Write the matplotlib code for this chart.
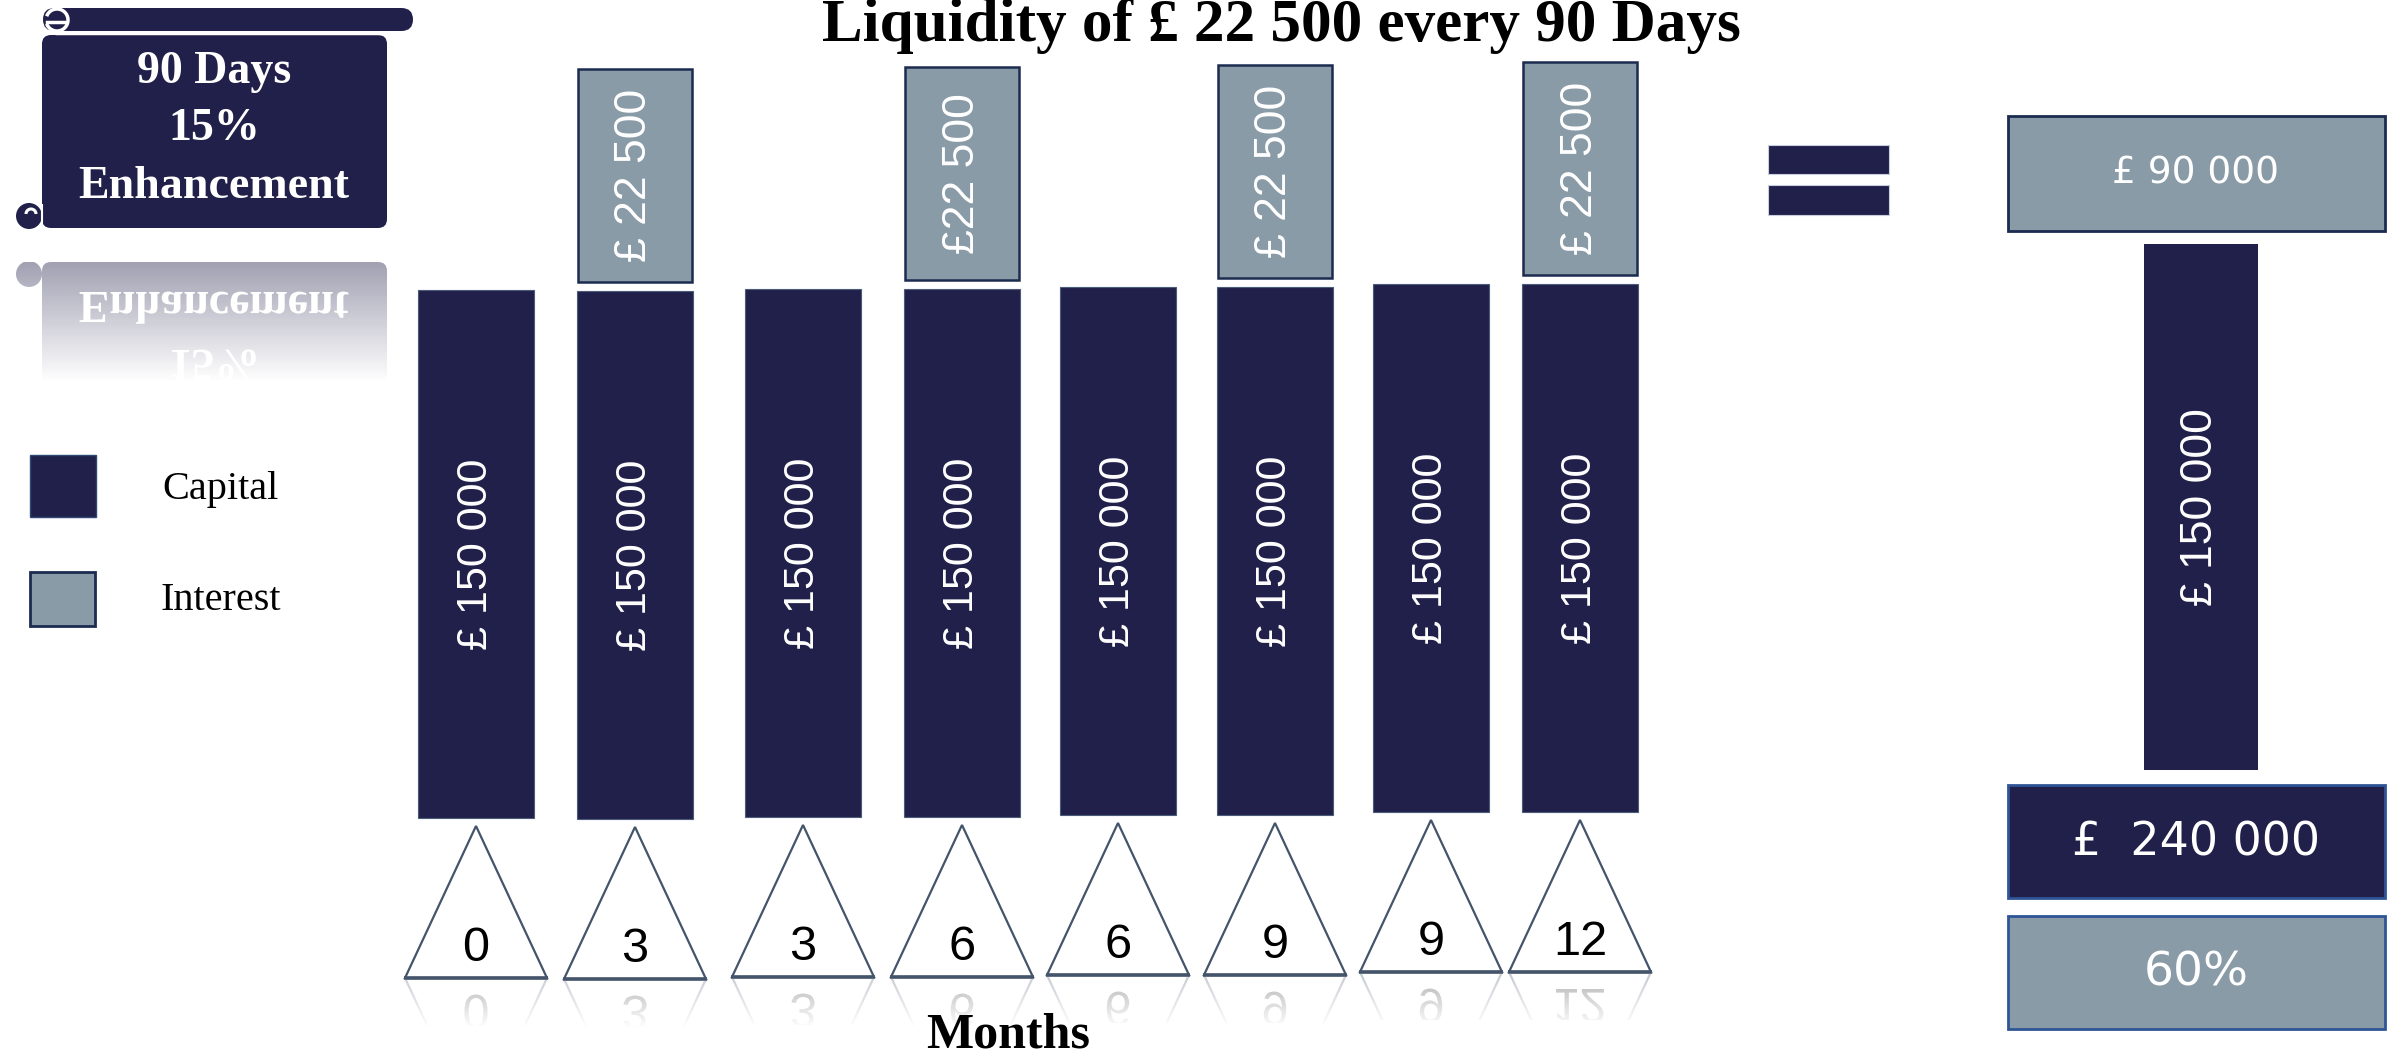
import numpy as np
import matplotlib
matplotlib.use('Agg')
import matplotlib.pyplot as plt
from matplotlib.patches import Rectangle, FancyBboxPatch, Polygon, PathPatch, Circle, Arc
from matplotlib.textpath import TextPath
from matplotlib.font_manager import FontProperties
from matplotlib.transforms import Affine2D

# ---------------- data ----------------
months = ['0', '3', '3', '6', '6', '9', '9', '12']
capital = [150000, 150000, 150000, 150000, 150000, 150000, 150000, 150000]
interest = [0, 22500, 0, 22500, 0, 22500, 0, 22500]
interest_labels = ['', '£ 22 500', '', '£22 500', '', '£ 22 500', '', '£ 22 500']
capital_labels = ['£ 150 000'] * 8
title = 'Liquidity of £ 22 500 every 90 Days'
scroll_lines = ['90 Days', '15%', 'Enhancement']
legend_labels = ['Capital', 'Interest']
xlabel = 'Months'

# ---------------- style ----------------
NAVY = '#21204A'
GREY = '#8A9BA8'
EDGE = '#44546A'
BORDER = '#1C2B50'
BLUE_BORDER = '#2F5597'
SERIF = ['Liberation Serif', 'DejaVu Serif']
NARROW = ['Liberation Sans Narrow', 'Liberation Sans', 'DejaVu Sans']
WIDE = ['DejaVu Sans']

W, H = 2394, 1061
fig = plt.figure(figsize=(W / 100, H / 100), dpi=100)
ax = fig.add_axes([0, 0, 1, 1])
ax.axis('off')


def fmt(v):
    return '{:,}'.format(int(round(v))).replace(',', ' ')


def clip_rect(x0, y0, w, h):
    return Rectangle((x0, y0), w, h, transform=ax.transData)


def fade(x0, x1, y0, y1, a0, a1, z):
    n = 256
    img = np.ones((n, 2, 4))
    img[..., 3] = np.linspace(a0, a1, n)[:, None]
    ax.imshow(img, extent=(x0, x1, y1, y0), origin='upper', aspect='auto',
              zorder=z, interpolation='bilinear')


def mirrored_text(xc, baseline, s, size_pt, fp, color, clip, z=1.5):
    tp = TextPath((0, 0), s, size=size_pt * 100 / 72, prop=fp)
    ext = tp.get_extents()
    tr = Affine2D().translate(-(ext.x0 + ext.x1) / 2, 0).translate(xc, baseline) + ax.transData
    p = PathPatch(tp, transform=tr, facecolor=color, edgecolor='none', zorder=z)
    ax.add_patch(p)
    p.set_clip_path(clip)


# ---------------- layout ----------------
bar_x = [476, 635, 803, 962, 1118, 1275, 1431, 1580]
base_y = [818, 819, 817, 817, 815, 815, 812, 812]
bar_w = 116
px_per = 528 / 150000.0
gap = 9
box_h = 213

# capital bars
cap_h = [-c * px_per for c in capital]
ax.bar(bar_x, cap_h, width=bar_w, bottom=base_y, color=NAVY,
       edgecolor='#4B5B7A', linewidth=0.8, zorder=3)
for x, b, c, lab in zip(bar_x, base_y, capital, capital_labels):
    ax.text(x, b - c * px_per / 2, lab, rotation=90, ha='center', va='center',
            color='white', fontsize=31, family=NARROW, zorder=4)

# interest boxes
ix = [x for x, v in zip(bar_x, interest) if v > 0]
ib = [b - c * px_per - gap for b, c, v in zip(base_y, capital, interest) if v > 0]
ax.bar(ix, [-box_h] * len(ix), width=bar_w - 2, bottom=ib, color=GREY,
       edgecolor=BORDER, linewidth=1.8, zorder=3)
for x, b, c, v, lab in zip(bar_x, base_y, capital, interest, interest_labels):
    if v > 0:
        ax.text(x, b - c * px_per - gap - box_h / 2, lab, rotation=90, ha='center',
                va='center', color='white', fontsize=32, family=NARROW, zorder=4)

# triangles with month labels + reflections
tri_h = 152
half = 71
fp_digit = FontProperties(family=NARROW)
for x, b, m in zip(bar_x, base_y, months):
    tb = b + 160
    apex = tb - tri_h
    ax.add_patch(Polygon([[x - half, tb], [x, apex], [x + half, tb]], closed=True,
                         facecolor='white', edgecolor=EDGE, linewidth=1.6, zorder=3))
    ax.plot([x - half - 1, x + half + 1], [tb, tb], color=EDGE, lw=2.6,
            solid_capstyle='butt', zorder=3.5)
    ax.text(x, tb - 17, m, ha='center', va='baseline', fontsize=35,
            family=NARROW, color='black', zorder=4)
    # reflection
    clip = clip_rect(x - half - 5, tb + 2, 2 * half + 10, 46)
    refl = Polygon([[x - half, tb], [x, tb + tri_h], [x + half, tb]], closed=False,
                   fill=False, edgecolor=EDGE, linewidth=1.6, zorder=1)
    ax.add_patch(refl)
    refl.set_clip_path(clip)
    mirrored_text(x, tb + 17, m, 35, fp_digit, 'black', clip)
fade(390, 1670, min(base_y) + 162, max(base_y) + 160 + 48, 0.7, 1.0, 2)

ax.text(1008, 1059, xlabel, ha='center', va='bottom', fontsize=36,
        fontweight='bold', family=SERIF, color='black', zorder=4)

# title
ax.text(1281, 41, title, ha='center', va='baseline', fontsize=44,
        fontweight='bold', family=SERIF, color='black', zorder=4)

# ---------------- scroll banner ----------------
ax.add_patch(FancyBboxPatch((43, 8), 370, 23, boxstyle='round,pad=0,rounding_size=11.5',
                            facecolor=NAVY, edgecolor='none', zorder=3))
ax.add_patch(FancyBboxPatch((42, 35), 345, 193, boxstyle='round,pad=0,rounding_size=9',
                            facecolor=NAVY, edgecolor='none', zorder=3))
ax.add_patch(Arc((57, 20), 22, 22, theta1=200, theta2=520, color='white', lw=2.5, zorder=4))
ax.plot([47, 66], [22, 22], color='white', lw=2.5, zorder=4)
ax.plot([57, 413], [32.5, 32.5], color='white', lw=2.5, zorder=4)
ax.add_patch(Circle((29, 216), 13, facecolor=NAVY, edgecolor='none', zorder=3))
ax.add_patch(Arc((31, 214), 10, 10, theta1=180, theta2=360, color='white', lw=2.2, zorder=4))
ax.plot([42, 42], [205, 228], color='white', lw=1.5, zorder=4)
for s, yb in zip(scroll_lines, [83, 140, 198]):
    ax.text(214, yb, s, ha='center', va='baseline', fontsize=33, fontweight='bold',
            family=SERIF, color='white', zorder=5)

# scroll reflection (mirror about y = 245)
mir = 245
sclip = clip_rect(0, 2 * mir - 228, 400, 118)
rb = FancyBboxPatch((42, 2 * mir - 228), 345, 193, boxstyle='round,pad=0,rounding_size=9',
                    facecolor=NAVY, edgecolor='none', zorder=1)
ax.add_patch(rb)
rb.set_clip_path(sclip)
rc = Circle((29, 2 * mir - 216), 13, facecolor=NAVY, edgecolor='none', zorder=1)
ax.add_patch(rc)
rc.set_clip_path(sclip)
fp_serif_b = FontProperties(family=SERIF, weight='bold')
for s, yb in zip(scroll_lines, [83, 140, 198]):
    mirrored_text(214, 2 * mir - yb, s, 33, fp_serif_b, 'white', sclip)
fade(0, 400, 2 * mir - 228, 2 * mir - 228 + 118, 0.58, 1.0, 2)

# ---------------- legend ----------------
ax.add_patch(Rectangle((30, 455), 66, 62, facecolor=NAVY, edgecolor='#2E4A74', lw=1.0, zorder=3))
ax.add_patch(Rectangle((30, 572), 65, 54, facecolor=GREY, edgecolor=BORDER, lw=2.0, zorder=3))
ax.text(220, 490, legend_labels[0], ha='center', va='center', fontsize=29,
        family=SERIF, color='black', zorder=4)
ax.text(221, 600, legend_labels[1], ha='center', va='center', fontsize=29,
        family=SERIF, color='black', zorder=4)

# ---------------- equals sign ----------------
ax.add_patch(Rectangle((1768, 145), 121, 29, facecolor=NAVY, edgecolor='#C9CFE0', lw=0.8, zorder=3))
ax.add_patch(Rectangle((1768, 185), 121, 30, facecolor=NAVY, edgecolor='#C9CFE0', lw=0.8, zorder=3))

# ---------------- summary column ----------------
total_interest = sum(interest)
total = capital[-1] + total_interest
pct = total_interest / capital[-1] * 100

ax.add_patch(Rectangle((2008, 116), 377, 115, facecolor=GREY, edgecolor=BORDER, lw=2.0, zorder=3))
ax.text(2196, 174, '£ ' + fmt(total_interest), ha='center', va='center', fontsize=27,
        family=WIDE, color='white', zorder=4)

ax.bar([2201], [-capital[-1] * px_per * 0.996], width=114, bottom=[770], color=NAVY,
       edgecolor='none', zorder=3)
ax.text(2201, 770 - capital[-1] * px_per * 0.996 / 2, '£ ' + fmt(capital[-1]), rotation=90,
        ha='center', va='center', fontsize=32, family=NARROW, color='white', zorder=4)

ax.add_patch(Rectangle((2008, 785), 377, 113, facecolor=NAVY, edgecolor=BLUE_BORDER, lw=2.0, zorder=3))
ax.text(2196, 843, '£  ' + fmt(total), ha='center', va='center', fontsize=33,
        family=WIDE, color='white', zorder=4)

ax.add_patch(Rectangle((2008, 916), 377, 113, facecolor=GREY, edgecolor=BLUE_BORDER, lw=2.0, zorder=3))
ax.text(2196, 973, '{:.0f}%'.format(pct), ha='center', va='center', fontsize=34,
        family=WIDE, color='white', zorder=4)

ax.set_xlim(0, W)
ax.set_ylim(H, 0)
fig.savefig('out.png', dpi=100, facecolor='white')
